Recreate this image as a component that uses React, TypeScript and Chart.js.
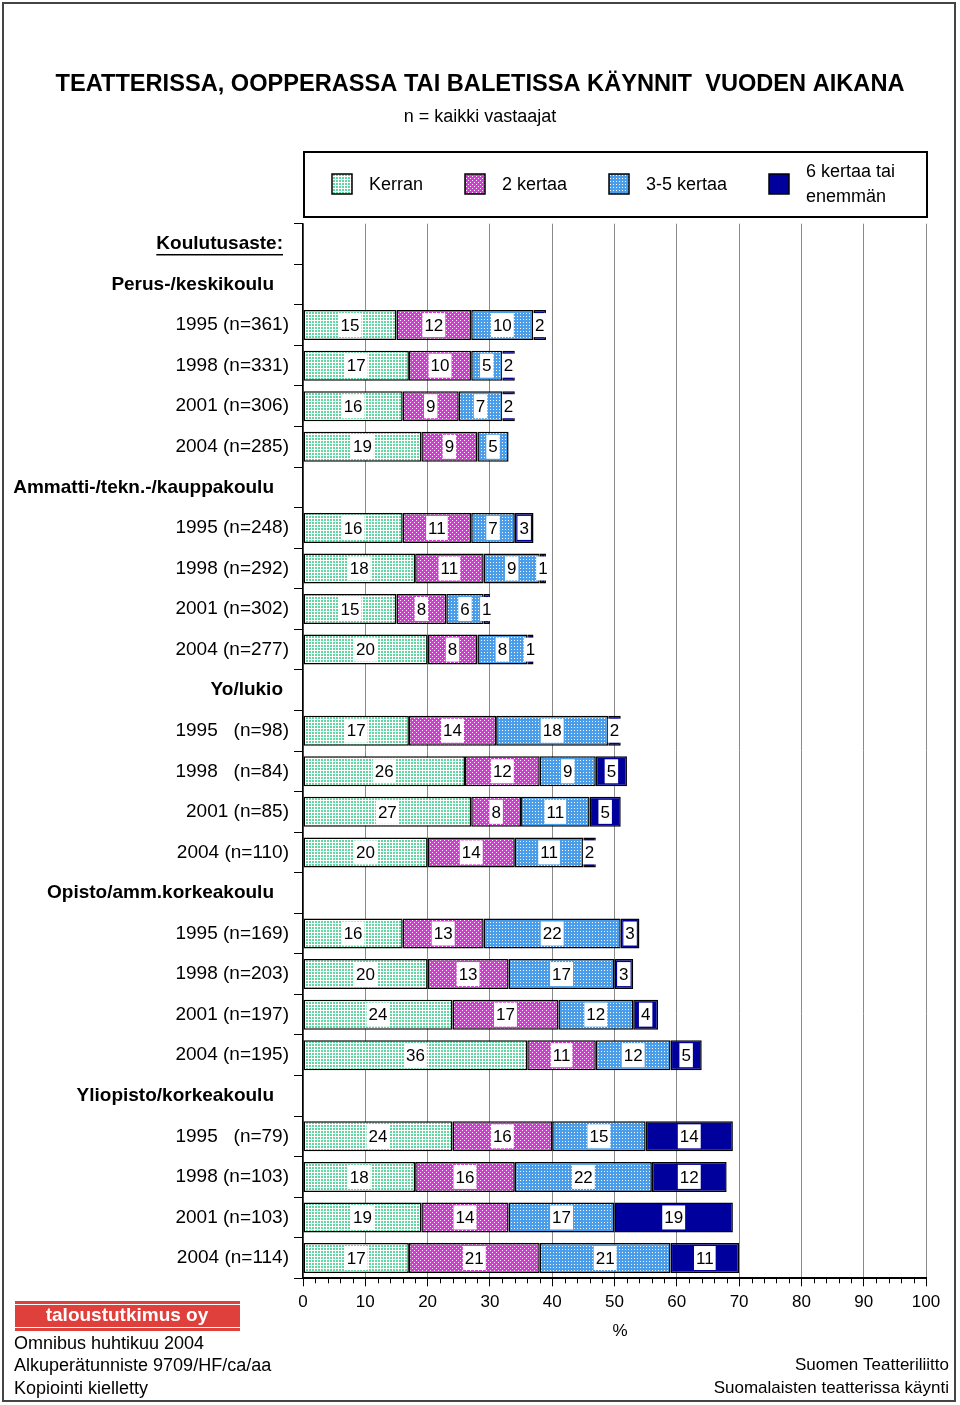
import React, { useEffect, useRef } from "react";
import { Chart, registerables } from "chart.js";
Chart.register(...registerables);

const FONT = "'Liberation Sans', Arial, Helvetica, sans-serif";

const categories = [
  "Koulutusaste:",
  "Perus-/keskikoulu",
  "1995 (n=361)",
  "1998 (n=331)",
  "2001 (n=306)",
  "2004 (n=285)",
  "Ammatti-/tekn.-/kauppakoulu",
  "1995 (n=248)",
  "1998 (n=292)",
  "2001 (n=302)",
  "2004 (n=277)",
  "Yo/lukio",
  "1995   (n=98)",
  "1998   (n=84)",
  "2001 (n=85)",
  "2004 (n=110)",
  "Opisto/amm.korkeakoulu",
  "1995 (n=169)",
  "1998 (n=203)",
  "2001 (n=197)",
  "2004 (n=195)",
  "Yliopisto/korkeakoulu",
  "1995   (n=79)",
  "1998 (n=103)",
  "2001 (n=103)",
  "2004 (n=114)",
];

const headerLabels = [
  "Koulutusaste:",
  "Perus-/keskikoulu",
  "Ammatti-/tekn.-/kauppakoulu",
  "Yo/lukio",
  "Opisto/amm.korkeakoulu",
  "Yliopisto/korkeakoulu",
];

const seriesNames = ["Kerran", "2 kertaa", "3-5 kertaa", "6 kertaa tai\nenemmän"];

const kerran = [null, null, 15, 17, 16, 19, null, 16, 18, 15, 20, null, 17, 26, 27, 20, null, 16, 20, 24, 36, null, 24, 18, 19, 17];
const kertaa2 = [null, null, 12, 10, 9, 9, null, 11, 11, 8, 8, null, 14, 12, 8, 14, null, 13, 13, 17, 11, null, 16, 16, 14, 21];
const kertaa35 = [null, null, 10, 5, 7, 5, null, 7, 9, 6, 8, null, 18, 9, 11, 11, null, 22, 17, 12, 12, null, 15, 22, 17, 21];
const kertaa6 = [null, null, 2, 2, 2, null, null, 3, 1, 1, 1, null, 2, 5, 5, 2, null, 3, 3, 4, 5, null, 14, 12, 19, 11];

const xTicks = [0, 10, 20, 30, 40, 50, 60, 70, 80, 90, 100];

const titleText = "TEATTERISSA, OOPPERASSA TAI BALETISSA KÄYNNIT  VUODEN AIKANA";
const subtitleText = "n = kaikki vastaajat";
const footerLeft = ["Omnibus huhtikuu 2004", "Alkuperätunniste 9709/HF/ca/aa", "Kopiointi kielletty"];
const footerRight = ["Suomen Teatteriliitto", "Suomalaisten teatterissa käynti"];
const logoText = "taloustutkimus oy";

function makePattern(size: number, bg: string, fg: string, cells: number[][]) {
  const c = document.createElement("canvas");
  c.width = size;
  c.height = size;
  const g = c.getContext("2d")!;
  g.fillStyle = bg;
  g.fillRect(0, 0, size, size);
  g.fillStyle = fg;
  cells.forEach(([x, y]) => g.fillRect(x, y, 1, 1));
  const tmp = document.createElement("canvas").getContext("2d")!;
  return tmp.createPattern(c, "repeat") as CanvasPattern;
}

export default function App() {
  const ref = useRef<HTMLCanvasElement | null>(null);

  useEffect(() => {
    if (!ref.current) return;
    const greenPat = makePattern(3, "#ffffff", "#62d6a0", [[0, 0], [1, 0], [0, 1], [1, 1]]);
    const magentaPat = makePattern(4, "#e62ee6", "#ffffff", [[0, 0], [2, 2]]);
    const bluePat = makePattern(3, "#4a9de8", "#ffffff", [[1, 1]]);
    const navy = "#00009c";
    const fills = [greenPat, magentaPat, bluePat, navy];
    const seriesData = [kerran, kertaa2, kertaa35, kertaa6];

    const decor = {
      id: "decor",
      beforeDraw(chart: any) {
        const ctx = chart.ctx;
        ctx.save();
        ctx.fillStyle = "#fff";
        ctx.fillRect(0, 0, chart.width, chart.height);
        // outer frame
        ctx.strokeStyle = "#444";
        ctx.lineWidth = 2;
        ctx.strokeRect(3, 3, 952, 1398);
        // title
        ctx.fillStyle = "#000";
        ctx.textBaseline = "middle";
        ctx.font = `bold 24px ${FONT}`;
        const tw = ctx.measureText(titleText).width;
        const target = 849;
        ctx.save();
        ctx.translate(480, 84);
        ctx.scale(target / tw, 1);
        ctx.textAlign = "center";
        ctx.fillText(titleText, 0, 0);
        ctx.restore();
        ctx.font = `18px ${FONT}`;
        ctx.textAlign = "center";
        ctx.fillText(subtitleText, 480, 117);
        // legend box
        ctx.lineWidth = 2;
        ctx.strokeStyle = "#000";
        ctx.strokeRect(304, 152, 623, 65);
        const sw = [332, 465, 609, 769];
        ctx.font = `18px ${FONT}`;
        ctx.textAlign = "left";
        seriesNames.forEach((name, i) => {
          ctx.fillStyle = fills[i] as any;
          ctx.fillRect(sw[i], 174, 20, 20);
          ctx.lineWidth = 1.5;
          ctx.strokeStyle = "#000";
          ctx.strokeRect(sw[i], 174, 20, 20);
          ctx.fillStyle = "#000";
          const lines = name.split("\n");
          if (lines.length === 1) {
            ctx.fillText(lines[0], sw[i] + 37, 185);
          } else {
            ctx.fillText(lines[0], sw[i] + 37, 172);
            ctx.fillText(lines[1], sw[i] + 37, 197);
          }
        });
        // logo
        ctx.fillStyle = "#e0403c";
        ctx.fillRect(15, 1301, 225, 30);
        ctx.strokeStyle = "#fff";
        ctx.lineWidth = 1;
        ctx.beginPath();
        ctx.moveTo(15, 1304.5);
        ctx.lineTo(240, 1304.5);
        ctx.moveTo(15, 1327.5);
        ctx.lineTo(240, 1327.5);
        ctx.stroke();
        ctx.fillStyle = "#fff";
        ctx.font = `bold 19px ${FONT}`;
        ctx.textAlign = "center";
        ctx.fillText(logoText, 127, 1316);
        // footer
        ctx.fillStyle = "#000";
        ctx.font = `18px ${FONT}`;
        ctx.textAlign = "left";
        footerLeft.forEach((t, i) => ctx.fillText(t, 14, 1344 + i * 22.5));
        ctx.font = `17px ${FONT}`;
        ctx.textAlign = "right";
        footerRight.forEach((t, i) => ctx.fillText(t, 949, 1365 + i * 23));
        ctx.restore();
      },
      afterDraw(chart: any) {
        const ctx = chart.ctx;
        const xs = chart.scales.x;
        const ys = chart.scales.y;
        const area = chart.chartArea;
        ctx.save();
        // minor ticks
        ctx.strokeStyle = "#000";
        ctx.lineWidth = 1;
        ctx.beginPath();
        for (let v = 2; v < 100; v += 2) {
          if (v % 10 === 0) continue;
          const px = Math.round(xs.getPixelForValue(v)) + 0.5;
          ctx.moveTo(px, area.bottom);
          ctx.lineTo(px, area.bottom + 5);
        }
        ctx.stroke();
        // % label
        ctx.fillStyle = "#000";
        ctx.font = `17px ${FONT}`;
        ctx.textAlign = "center";
        ctx.textBaseline = "middle";
        ctx.fillText("%", 620, 1331);
        // y labels
        categories.forEach((lab, i) => {
          const y = ys.getPixelForValue(i);
          if (headerLabels.includes(lab)) {
            ctx.font = `bold 19px ${FONT}`;
            ctx.textAlign = "right";
            const rx = i === 0 || lab === "Yo/lukio" ? 283 : 274;
            ctx.fillText(lab, rx, y);
            if (i === 0) {
              const w = ctx.measureText(lab).width;
              ctx.fillRect(rx - w, y + 10, w, 1.5);
            }
          } else {
            ctx.font = `19px ${FONT}`;
            ctx.textAlign = "right";
            ctx.fillText(lab, 289, y);
          }
        });
        // data labels
        ctx.font = `17px ${FONT}`;
        chart.data.datasets.forEach((ds: any, di: number) => {
          const meta = chart.getDatasetMeta(di);
          meta.data.forEach((el: any, idx: number) => {
            const v = ds.data[idx];
            if (v === null || v === undefined) return;
            const cx = (el.x + el.base) / 2;
            const cy = el.y;
            const t = String(v);
            const w = ctx.measureText(t).width;
            ctx.fillStyle = "#fff";
            ctx.fillRect(cx - w / 2 - 2, cy - 12, w + 4, 24);
            ctx.fillStyle = "#000";
            ctx.textAlign = "center";
            ctx.fillText(t, cx, cy + 1);
          });
        });
        ctx.restore();
      },
    };

    const chart = new Chart(ref.current, {
      type: "bar",
      data: {
        labels: categories,
        datasets: seriesData.map((d, i) => ({
          label: seriesNames[i],
          data: d as any,
          backgroundColor: fills[i] as any,
          borderColor: "#000",
          borderWidth: 1.5,
          borderSkipped: false,
          barPercentage: 0.74,
          categoryPercentage: 1,
        })),
      },
      options: {
        indexAxis: "y",
        responsive: false,
        maintainAspectRatio: false,
        animation: false,
        devicePixelRatio: 1,
        layout: { padding: { left: 0, right: 34, top: 223.7, bottom: 86.7 } },
        plugins: {
          legend: { display: false },
          title: { display: false },
          tooltip: { enabled: false },
        },
        scales: {
          x: {
            stacked: true,
            min: 0,
            max: 100,
            afterBuildTicks: (s: any) => {
              s.ticks = xTicks.map((v) => ({ value: v }));
            },
            ticks: {
              stepSize: 10,
              color: "#000",
              font: { family: FONT, size: 17 },
              padding: 6,
              maxRotation: 0,
            },
            grid: { color: "#8a8a8a", tickColor: "#000", tickLength: 8, lineWidth: 1 },
            border: { color: "#000", width: 2 },
            afterFit: (s: any) => {
              s.height = 40;
            },
          },
          y: {
            stacked: true,
            ticks: { display: false },
            grid: { drawOnChartArea: false, offset: true, tickLength: 9, tickColor: "#000" },
            border: { color: "#000", width: 1.5 },
            afterFit: (s: any) => {
              s.width = 303;
            },
          },
        },
      },
      plugins: [decor],
    });
    return () => chart.destroy();
  }, []);

  return (
    <div style={{ position: "absolute", left: 0, top: 0, width: 960, height: 1405 }}>
      <canvas ref={ref} width={960} height={1405} style={{ width: 960, height: 1405, display: "block" }} />
    </div>
  );
}
